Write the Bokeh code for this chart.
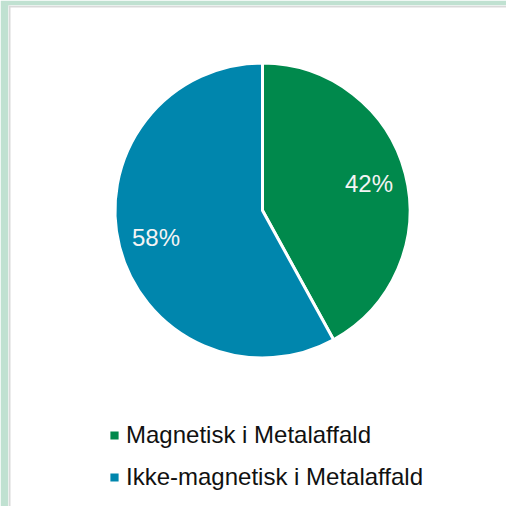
import math
from bokeh.plotting import figure
from bokeh.models import Range1d, Legend, LegendItem, ColumnDataSource
from bokeh.core.properties import value
from bokeh.embed import file_html
from bokeh.resources import INLINE

categories = ["Magnetisk i Metalaffald", "Ikke-magnetisk i Metalaffald"]
shares = [42, 58]
labels = ["42%", "58%"]
colors = ["#00894c", "#0086ad"]

W, H = 506, 506
p = figure(width=W, height=H, output_backend="svg", toolbar_location=None,
           x_range=Range1d(8, 506), y_range=Range1d(0, 501),
           min_border_left=8, min_border_top=5, min_border_right=0, min_border_bottom=0)
p.axis.visible = False
p.grid.visible = False
p.border_fill_color = "#c0e1d1"
p.background_fill_color = "white"
p.outline_line_color = None

# thin grey edge of the white panel (left and top only)
p.quad(left=[8, 8], right=[10, 506], bottom=[0, 499], top=[501, 501],
       fill_color="#d9d9d9", line_color=None)

cx, cy, r = 262, 296, 147.5
total = sum(shares)
starts, ends, mids = [], [], []
cum = 0.0
for s in shares:
    a0 = math.pi / 2 - 2 * math.pi * cum / total
    a1 = math.pi / 2 - 2 * math.pi * (cum + s) / total
    starts.append(a0)
    ends.append(a1)
    mids.append((a0 + a1) / 2)
    cum += s

renderers = []
for i, cat in enumerate(categories):
    rr = p.wedge(x=cx, y=cy, radius=r, start_angle=starts[i], end_angle=ends[i],
                 direction="clock", fill_color=colors[i], line_color="white", line_width=3)
    renderers.append(rr)

lr = 110
src = ColumnDataSource(dict(
    x=[cx + lr * math.cos(a) for a in mids],
    y=[cy + lr * math.sin(a) for a in mids],
    t=labels))
p.text(x="x", y="y", text="t", source=src, text_align="center", text_baseline="middle",
       text_font=value("Liberation Sans"), text_font_size="24px", text_color="#f4f4f4")

legend = Legend(items=[LegendItem(label=c, renderers=[rr]) for c, rr in zip(categories, renderers)],
                location=(99, 15), orientation="vertical",
                glyph_width=14, glyph_height=14, label_standoff=5, spacing=14,
                padding=0, margin=0, border_line_color=None, background_fill_alpha=0,
                label_text_font="Liberation Sans", label_text_font_size="24px",
                label_text_color="#111111")
p.add_layout(legend, "center")

open("out.html", "w").write(file_html(p, INLINE))
